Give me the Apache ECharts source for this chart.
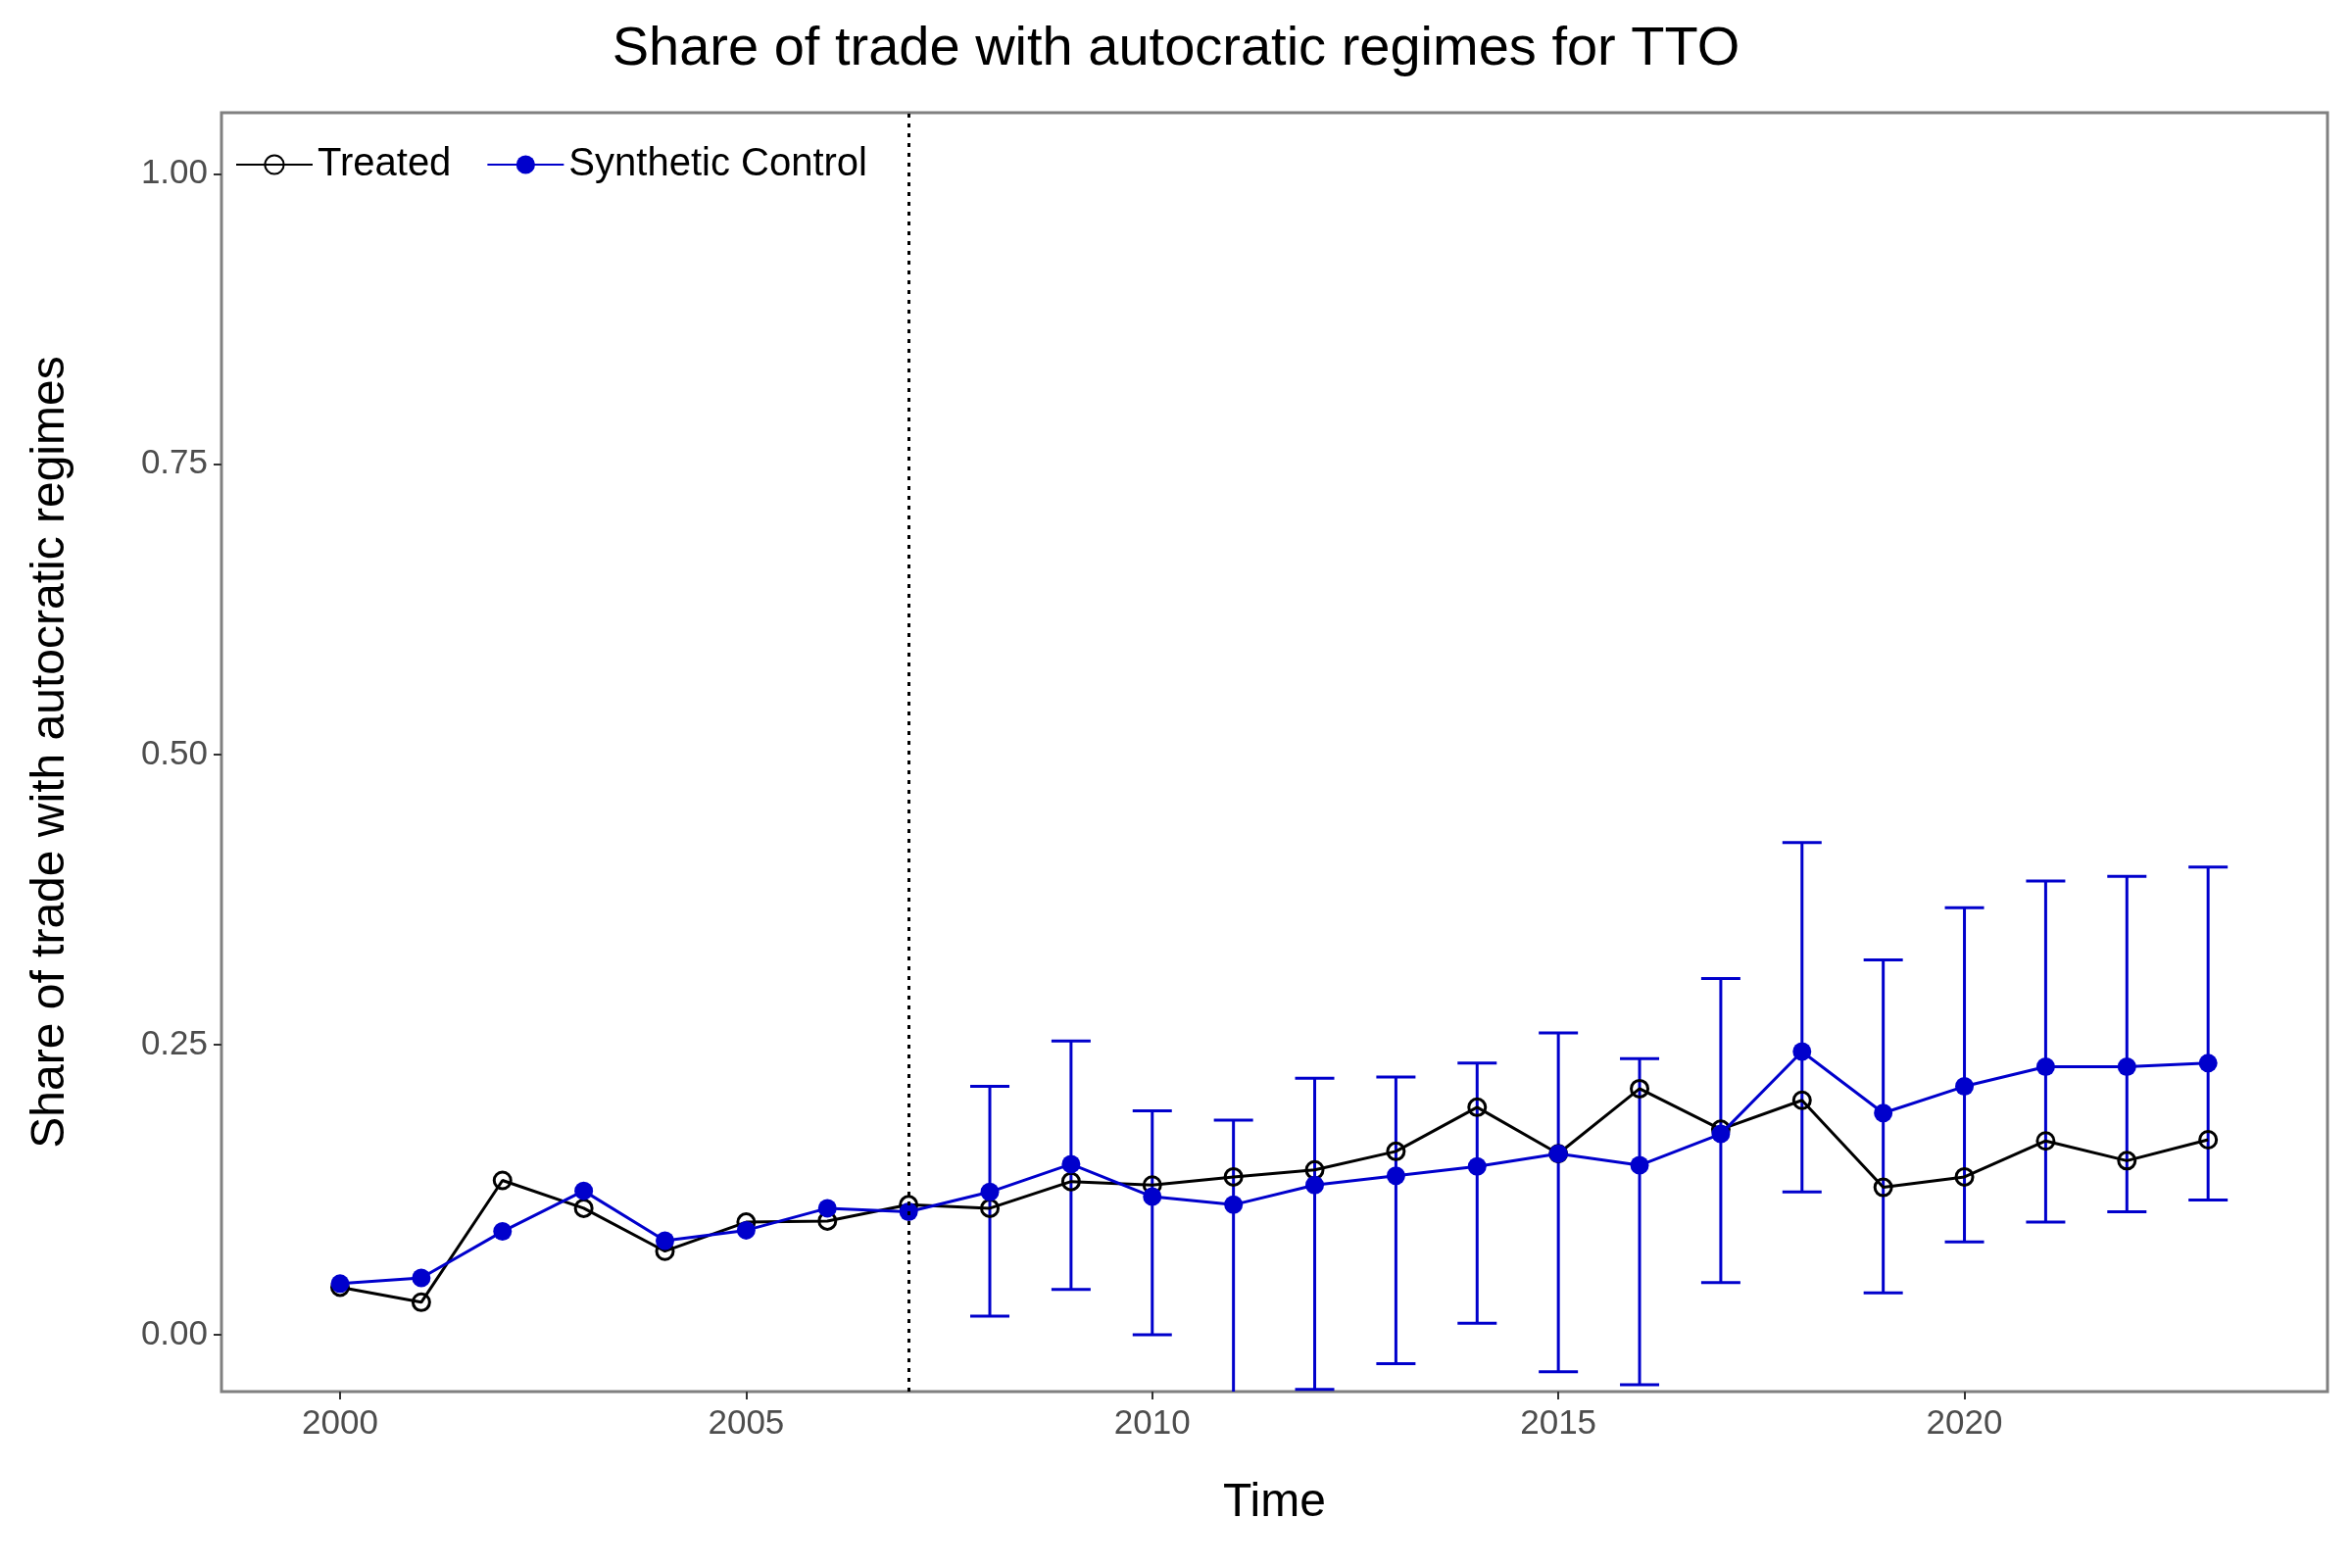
<!DOCTYPE html>
<html><head><meta charset="utf-8">
<script src="https://cdn.jsdelivr.net/npm/echarts@6/dist/echarts.min.js"></script>
<style>html,body{margin:0;padding:0;background:#fff}#c{width:2400px;height:1600px}</style>
</head><body><div id="c"></div>
<script>
const years = [2000,2001,2002,2003,2004,2005,2006,2007,2008,2009,2010,2011,2012,2013,2014,2015,2016,2017,2018,2019,2020,2021,2022,2023]
const treated = [0.041,0.028,0.133,0.109,0.072,0.097,0.098,0.112,0.109,0.132,0.129,0.136,0.142,0.158,0.196,0.156,0.212,0.177,0.202,0.127,0.136,0.167,0.150,0.168]
const synthetic = [0.044,0.049,0.089,0.124,0.081,0.090,0.109,0.106,0.123,0.147,0.119,0.112,0.129,0.137,0.145,0.156,0.146,0.173,0.244,0.191,0.214,0.231,0.231,0.234]
const ciYears = [2008,2009,2010,2011,2012,2013,2014,2015,2016,2017,2018,2019,2020,2021,2022,2023]
const ciLow = [0.016,0.039,0.000,-0.07,-0.047,-0.025,0.010,-0.032,-0.043,0.045,0.123,0.036,0.080,0.097,0.106,0.116]
const ciHigh = [0.214,0.253,0.193,0.185,0.221,0.222,0.234,0.260,0.238,0.307,0.424,0.323,0.368,0.391,0.395,0.403]
const xTicks = [2000,2005,2010,2015,2020]
const yTicks = [0,0.25,0.5,0.75,1]
const treatYear = 2007
const font = 'Liberation Sans, Arial, sans-serif'

const chart = echarts.init(document.getElementById('c'))
chart.setOption({
  animation: false,
  title: {
    text: 'Share of trade with autocratic regimes for TTO', left: 'center', top: 18,
    textStyle: { fontFamily: font, fontSize: 56, fontWeight: 'normal', color: '#000' }
  },
  legend: {
    left: 234, top: 140, itemWidth: 78, itemHeight: 24, itemGap: 36,
    backgroundColor: '#fff', padding: [8, 6],
    textStyle: { fontFamily: font, fontSize: 40, color: '#000' },
    data: ['Treated', 'Synthetic Control']
  },
  grid: { left: 226, right: 25, top: 115, bottom: 180, show: true, borderColor: '#808080', borderWidth: 3 },
  xAxis: {
    type: 'value', min: 1998.54, max: 2024.47,
    name: 'Time', nameLocation: 'middle', nameGap: 90,
    nameTextStyle: { fontFamily: font, fontSize: 48, color: '#000' },
    axisLine: { show: false, onZero: false }, splitLine: { show: false },
    axisTick: { show: true, length: 8, lineStyle: { color: '#333', width: 2 }, customValues: xTicks },
    axisLabel: { fontFamily: font, fontSize: 35, color: '#4d4d4d', margin: 16, customValues: xTicks,
      formatter: v => String(v) }
  },
  yAxis: {
    type: 'value', min: -0.049, max: 1.053,
    name: 'Share of trade with autocratic regimes', nameLocation: 'middle', nameGap: 150,
    nameTextStyle: { fontFamily: font, fontSize: 48, color: '#000' },
    axisLine: { show: false, onZero: false }, splitLine: { show: false },
    axisTick: { show: true, length: 8, lineStyle: { color: '#333', width: 2 }, customValues: yTicks },
    axisLabel: { fontFamily: font, fontSize: 35, color: '#4d4d4d', margin: 14, customValues: yTicks,
      formatter: v => v.toFixed(2) }
  },
  series: [
    {
      name: 'errorbars', type: 'custom', clip: true, z: 1,
      data: ciYears.map((y, i) => [y, ciLow[i], ciHigh[i]]),
      renderItem: (params, api) => {
        const lo = api.coord([api.value(0), api.value(1)])
        const hi = api.coord([api.value(0), api.value(2)])
        const w = 20
        const st = { stroke: '#0000cc', lineWidth: 3 }
        return { type: 'group', children: [
          { type: 'line', shape: { x1: hi[0], y1: hi[1], x2: lo[0], y2: lo[1] }, style: st },
          { type: 'line', shape: { x1: hi[0]-w, y1: hi[1], x2: hi[0]+w, y2: hi[1] }, style: st },
          { type: 'line', shape: { x1: lo[0]-w, y1: lo[1], x2: lo[0]+w, y2: lo[1] }, style: st }
        ]}
      }
    },
    {
      name: 'Treated', type: 'line', z: 3,
      data: years.map((y, i) => [y, treated[i]]),
      symbol: 'circle', symbolSize: 17, color: '#000',
      lineStyle: { color: '#000', width: 3 },
      itemStyle: { color: 'rgba(255,255,255,0)', borderColor: '#000', borderWidth: 3 },
      markLine: {
        silent: true, symbol: 'none', label: { show: false },
        lineStyle: { color: '#000', type: [4, 6], width: 3 },
        data: [{ xAxis: treatYear }]
      }
    },
    {
      name: 'Synthetic Control', type: 'line', z: 4,
      data: years.map((y, i) => [y, synthetic[i]]),
      symbol: 'circle', symbolSize: 19, color: '#0000cc',
      lineStyle: { color: '#0000cc', width: 3 },
      itemStyle: { color: '#0000cc' }
    }
  ]
})
</script></body></html>
